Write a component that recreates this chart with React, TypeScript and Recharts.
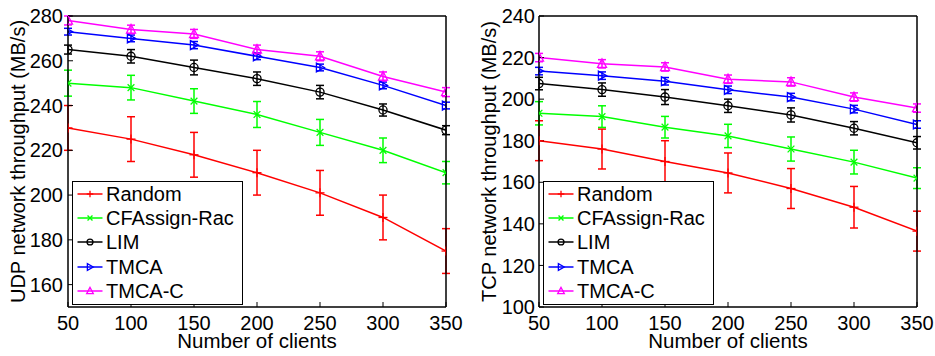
import React from 'react';
import { LineChart, Line, XAxis, YAxis, ErrorBar, Legend, Label } from 'recharts';

// ---- data ----
const clients = [50, 100, 150, 200, 250, 300, 350];
const xTicks = [50, 100, 150, 200, 250, 300, 350];
const udpTicks = [160, 180, 200, 220, 240, 260, 280];
const tcpTicks = [100, 120, 140, 160, 180, 200, 220, 240];

const seriesNames = ['Random', 'CFAssign-Rac', 'LIM', 'TMCA', 'TMCA-C'];

// UDP throughput (MB/s)
const udpRandom = [230, 225, 218, 210, 201, 190, 175];
const udpRandomErr = [10, 10, 10, 10, 10, 10, 10];
const udpCFAssign = [250, 248, 242, 236, 228, 220, 210];
const udpCFAssignErr = [5.8, 5.5, 5.5, 5.8, 5.8, 5.5, 5];
const udpLIM = [265, 262, 257, 252, 246, 238, 229];
const udpLIMErr = [2, 3, 3.3, 3, 3, 2.7, 2];
const udpTMCA = [273, 270, 267, 262, 257, 249, 240];
const udpTMCAErr = [1.5, 1.5, 1.6, 1.5, 1.5, 1.5, 1.5];
const udpTMCAC = [278, 274, 272, 265, 262, 253, 246];
const udpTMCACErr = [2, 1.9, 2, 2, 2, 2, 2];

// TCP throughput (MB/s)
const tcpRandom = [180, 176, 170, 164.5, 157, 148, 136.5];
const tcpRandomErr = [9.6, 9.6, 10, 9.6, 9.6, 10, 9.6];
const tcpCFAssign = [193.2, 191.6, 186.5, 182.3, 176, 169.7, 162];
const tcpCFAssignErr = [5.6, 5.2, 5.2, 5.6, 5.8, 5.7, 5];
const tcpLIM = [207.5, 204.6, 201, 196.8, 192.4, 186, 179];
const tcpLIMErr = [3, 3.2, 3.6, 3.2, 3.4, 3.2, 3];
const tcpTMCA = [213.5, 211.3, 208.6, 204.5, 201, 195.2, 187.8];
const tcpTMCAErr = [1.8, 1.8, 1.8, 1.8, 1.8, 1.8, 1.8];
const tcpTMCAC = [220, 217, 215.5, 209.6, 208.3, 201, 195.7];
const tcpTMCACErr = [2, 2, 2, 2, 2, 2, 2];

const keys = ['random', 'cf', 'lim', 'tmca', 'tmcac'];

const buildRows = (vals: number[][], errs: number[][]) =>
  clients.map((c, i) => {
    const row: Record<string, number> = { x: c };
    keys.forEach((k, j) => {
      row[k] = vals[j][i];
      row[k + 'Err'] = errs[j][i];
    });
    return row;
  });

const udpRows = buildRows(
  [udpRandom, udpCFAssign, udpLIM, udpTMCA, udpTMCAC],
  [udpRandomErr, udpCFAssignErr, udpLIMErr, udpTMCAErr, udpTMCACErr]
);
const tcpRows = buildRows(
  [tcpRandom, tcpCFAssign, tcpLIM, tcpTMCA, tcpTMCAC],
  [tcpRandomErr, tcpCFAssignErr, tcpLIMErr, tcpTMCAErr, tcpTMCACErr]
);

// ---- styles ----
const colors = ['#FF0000', '#00FF00', '#000000', '#0000FF', '#FF00FF'];
const shapes = ['plus', 'x', 'circle', 'right', 'up'];
const FONT = '"Liberation Sans", Arial, Helvetica, sans-serif';

function Marker({ shape, cx, cy, color, s }: { shape: string; cx: number; cy: number; color: string; s: number }) {
  const sw = 1.3;
  if (shape === 'plus') {
    return (
      <g stroke={color} strokeWidth={sw}>
        <line x1={cx - s} y1={cy} x2={cx + s} y2={cy} />
        <line x1={cx} y1={cy - s} x2={cx} y2={cy + s} />
      </g>
    );
  }
  if (shape === 'x') {
    const d = s * 0.75;
    return (
      <g stroke={color} strokeWidth={sw}>
        <line x1={cx - d} y1={cy - d} x2={cx + d} y2={cy + d} />
        <line x1={cx - d} y1={cy + d} x2={cx + d} y2={cy - d} />
      </g>
    );
  }
  if (shape === 'circle') {
    return <circle cx={cx} cy={cy} r={s * 0.9} fill="none" stroke={color} strokeWidth={sw} />;
  }
  if (shape === 'right') {
    const pts = `${cx + s},${cy} ${cx - s * 0.8},${cy - s} ${cx - s * 0.8},${cy + s}`;
    return <polygon points={pts} fill="none" stroke={color} strokeWidth={sw} />;
  }
  const pts = `${cx},${cy - s * 1.1} ${cx - s},${cy + s * 0.8} ${cx + s},${cy + s * 0.8}`;
  return <polygon points={pts} fill="none" stroke={color} strokeWidth={sw} />;
}

const makeDot = (j: number) => (props: any) => {
  const { cx, cy, index } = props;
  if (cx == null || cy == null) return <g key={`d${j}-${index}`} />;
  return (
    <g key={`d${j}-${index}`}>
      <Marker shape={shapes[j]} cx={cx} cy={cy} color={colors[j]} s={4.5} />
    </g>
  );
};

const LegendBox = () => (
  <div
    style={{
      border: '1.5px solid #000',
      background: '#fff',
      width: 171,
      height: 124,
      boxSizing: 'border-box',
      fontFamily: FONT,
    }}
  >
    {seriesNames.map((name, j) => (
      <div key={name} style={{ display: 'flex', alignItems: 'center', height: 24.2 }}>
        <svg width={33} height={24} style={{ display: 'block', flex: 'none' }}>
          <line x1={4.5} y1={12} x2={29.5} y2={12} stroke={colors[j]} strokeWidth={1.5} />
          <Marker shape={shapes[j]} cx={17} cy={12} color={colors[j]} s={3.3} />
        </svg>
        <span style={{ fontSize: 20, lineHeight: '24px', color: '#000', whiteSpace: 'nowrap' }}>{name}</span>
      </div>
    ))}
  </div>
);

const yLabel = (text: string, bx: number) => (props: any) => {
  const vb = props && props.viewBox;
  const cy = vb && typeof vb.y === 'number' && typeof vb.height === 'number' ? vb.y + vb.height / 2 : 161.5;
  return (
    <text
      x={bx}
      y={cy}
      transform={`rotate(-90 ${bx} ${cy})`}
      textAnchor="middle"
      fontSize={20}
      fill="#000"
      fontFamily={FONT}
    >
      {text}
    </text>
  );
};

const tickStyle = { fontSize: 20, fill: '#000', fontFamily: FONT };
const axisLineStyle = { stroke: '#000', strokeWidth: 1.5 };
const tickLineStyle = { stroke: '#000', strokeWidth: 1 };

function Panel({
  rows,
  domain,
  ticks,
  yTitle,
  yAxisWidth,
  rightMargin,
  yTickMargin,
  labelX,
  legendLeft,
}: {
  rows: Record<string, number>[];
  domain: [number, number];
  ticks: number[];
  yTitle: string;
  yAxisWidth: number;
  rightMargin: number;
  yTickMargin: number;
  labelX: number;
  legendLeft: number;
}) {
  return (
    <LineChart width={470} height={356} data={rows} margin={{ top: 15, right: rightMargin, bottom: 0, left: 0 }}>
      <XAxis
        xAxisId="b"
        dataKey="x"
        type="number"
        domain={[50, 350]}
        ticks={xTicks}
        interval={0}
        allowDataOverflow
        height={49}
        tick={tickStyle}
        tickSize={-5}
        tickMargin={14}
        axisLine={axisLineStyle}
        tickLine={tickLineStyle}
      >
        <Label value="Number of clients" position="insideBottom" offset={8} style={{ fontSize: 20.5, fill: '#000', fontFamily: FONT }} />
      </XAxis>
      <XAxis
        xAxisId="t"
        orientation="top"
        dataKey="x"
        type="number"
        domain={[50, 350]}
        ticks={xTicks}
        interval={0}
        allowDataOverflow
        height={1}
        tick={false}
        tickSize={-5}
        axisLine={axisLineStyle}
        tickLine={tickLineStyle}
      />
      <YAxis
        yAxisId="l"
        type="number"
        domain={domain}
        ticks={ticks}
        interval={0}
        allowDataOverflow
        width={yAxisWidth}
        tick={tickStyle}
        tickSize={-5}
        tickMargin={yTickMargin}
        axisLine={axisLineStyle}
        tickLine={tickLineStyle}
      >
        <Label content={yLabel(yTitle, labelX)} />
      </YAxis>
      <YAxis
        yAxisId="r"
        orientation="right"
        type="number"
        domain={domain}
        ticks={ticks}
        interval={0}
        allowDataOverflow
        width={1}
        tick={false}
        tickSize={-5}
        axisLine={axisLineStyle}
        tickLine={tickLineStyle}
      />
      {keys.map((k, j) => (
        <Line
          key={k}
          xAxisId="b"
          yAxisId="l"
          dataKey={k}
          stroke={colors[j]}
          strokeWidth={1.5}
          dot={makeDot(j)}
          activeDot={false}
          isAnimationActive={false}
        >
          <ErrorBar dataKey={k + 'Err'} width={4} stroke={colors[j]} strokeWidth={1.5} direction="y" isAnimationActive={false} />
        </Line>
      ))}
      <Legend
        layout="horizontal"
        verticalAlign="middle"
        align="center"
        content={() => <LegendBox />}
        wrapperStyle={{ left: legendLeft, top: 181, width: 171, height: 124 }}
      />
    </LineChart>
  );
}

export default function App() {
  return (
    <div style={{ position: 'absolute', left: 0, top: 0, width: 935, height: 356, background: '#fff', fontFamily: FONT }}>
      <div style={{ position: 'absolute', left: 0, top: 0 }}>
        <Panel
          rows={udpRows}
          domain={[150, 280]}
          ticks={udpTicks}
          yTitle="UDP network throughput (MB/s)"
          yAxisWidth={68}
          rightMargin={23}
          yTickMargin={10}
          labelX={25}
          legendLeft={72}
        />
      </div>
      <div style={{ position: 'absolute', left: 465, top: 0 }}>
        <Panel
          rows={tcpRows}
          domain={[100, 240]}
          ticks={tcpTicks}
          yTitle="TCP network throughput (MB/s)"
          yAxisWidth={74}
          rightMargin={17}
          yTickMargin={9}
          labelX={31}
          legendLeft={78}
        />
      </div>
    </div>
  );
}
